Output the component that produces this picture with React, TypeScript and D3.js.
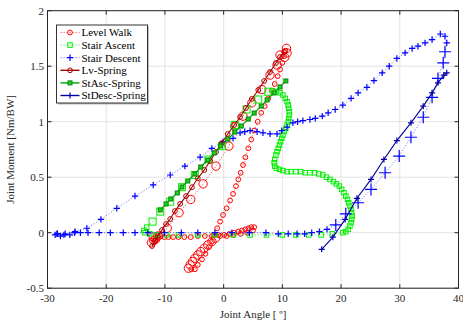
import React from "react";
import * as d3 from "d3";

type Pt = [number, number];

// Joint angle [deg] / joint moment [Nm/BW] pairs
const levelWalk: Pt[] = [
  [-11.6, -0.06], [-11.2, -0.04], [-10.7, -0.03], [-10.1, -0.04], [-9.4, -0.04], [-8.6, -0.04],
  [-7.7, -0.04], [-6.7, -0.04], [-5.6, -0.04], [-4.4, -0.03], [-3.2, -0.03], [-2.0, -0.03],
  [-0.9, -0.02], [0.1, -0.02], [1.0, -0.01], [1.8, 0.0], [2.5, 0.01], [3.1, 0.02], [3.7, 0.03],
  [4.2, 0.04], [4.7, 0.05], [5.2, 0.05], [5.0, 0.02], [4.0, 0.0], [2.9, -0.01], [1.7, -0.02],
  [0.5, -0.03], [-0.6, -0.03],
  [-1.4, -0.05], [-2.0, -0.08], [-2.7, -0.11], [-3.3, -0.14], [-3.9, -0.17], [-4.4, -0.2],
  [-4.9, -0.23], [-5.3, -0.26], [-5.7, -0.29], [-6.0, -0.32],
  [-5.5, -0.33], [-4.9, -0.33], [-4.4, -0.29], [-3.7, -0.24], [-3.1, -0.19], [-2.5, -0.13],
  [-2.0, -0.08], [-1.6, -0.02], [-1.1, 0.04], [-0.6, 0.1], [-0.1, 0.16], [0.5, 0.22], [1.1, 0.29],
  [1.6, 0.35], [2.1, 0.42], [2.5, 0.48], [2.9, 0.54], [3.3, 0.61], [3.7, 0.68], [4.2, 0.76],
  [4.7, 0.84], [5.2, 0.92], [5.8, 1.0], [6.4, 1.08], [7.0, 1.14], [7.6, 1.21], [8.2, 1.28],
  [8.7, 1.34], [9.2, 1.41], [9.6, 1.47], [10.0, 1.53], [10.3, 1.59], [10.5, 1.64],
  [10.7, 1.66], [10.8, 1.62], [10.4, 1.58], [9.6, 1.6], [9.1, 1.51], [7.9, 1.42], [6.5, 1.29],
  [4.8, 1.17], [3.3, 1.05], [1.9, 0.96], [0.9, 0.78], [-1.3, 0.6], [-3.5, 0.44], [-5.6, 0.3],
  [-7.6, 0.18], [-9.6, 0.04], [-11.2, -0.03], [-11.9, -0.07], [-12.3, -0.09], [-12.0, -0.04],
  [-11.6, -0.06],
];

const stairAscent: Pt[] = [
  [-13.6, 0.02], [-13.1, 0.05], [-12.1, 0.1], [-10.8, 0.19], [-9.1, 0.28], [-7.1, 0.41],
  [-4.9, 0.52], [-2.6, 0.66], [-0.3, 0.78], [1.9, 0.97], [3.9, 1.11], [5.9, 1.2], [7.6, 1.27],
  [8.3, 1.28], [9.0, 1.27], [9.6, 1.26], [10.1, 1.24], [10.5, 1.21], [10.8, 1.18], [11.0, 1.15],
  [11.1, 1.12], [11.2, 1.09], [11.2, 1.06], [11.1, 1.03], [11.0, 1.0], [10.8, 0.97], [10.6, 0.94],
  [10.3, 0.91], [10.1, 0.88], [9.9, 0.85], [9.7, 0.82], [9.5, 0.79], [9.3, 0.76], [9.1, 0.73],
  [8.9, 0.7], [8.7, 0.66], [8.6, 0.63], [8.7, 0.6], [9.0, 0.58], [9.5, 0.57], [10.1, 0.56],
  [10.8, 0.55], [11.5, 0.55], [12.3, 0.55], [13.1, 0.55], [13.9, 0.54], [14.7, 0.54], [15.5, 0.54],
  [16.2, 0.53], [16.9, 0.52], [17.5, 0.5], [18.1, 0.48], [18.7, 0.46], [19.2, 0.44], [19.7, 0.42],
  [20.1, 0.39], [20.5, 0.36], [20.8, 0.33], [21.1, 0.3], [21.3, 0.27], [21.5, 0.24], [21.7, 0.21],
  [21.8, 0.18], [21.9, 0.15], [21.8, 0.12], [21.7, 0.09], [21.5, 0.06], [21.2, 0.03], [20.8, 0.01],
  [20.3, 0.0], [18.5, -0.01], [16.6, -0.02], [14.5, -0.02], [12.3, -0.02], [10.0, -0.02],
  [7.3, -0.02], [4.5, -0.02], [1.6, -0.02], [-1.5, -0.02], [-4.4, -0.02], [-7.7, -0.02],
  [-9.7, -0.02], [-11.4, -0.02], [-12.6, -0.01], [-13.4, 0.0],
];

const stairDescent: Pt[] = [
  [-28.7, -0.02], [-28.3, -0.01], [-27.8, -0.03], [-27.0, -0.01], [-26.2, -0.02], [-25.4, 0.0],
  [-24.4, 0.0], [-23.1, 0.0], [-21.2, 0.0], [-19.3, 0.0], [-17.1, 0.0], [-15.1, 0.0], [-12.9, 0.0],
  [-10.1, 0.0], [-7.2, 0.0], [-4.4, 0.0], [-1.5, 0.0], [1.4, 0.0], [4.4, 0.0], [7.2, 0.0],
  [9.3, -0.01], [11.0, -0.01], [12.5, -0.01], [13.8, -0.01], [15.0, 0.0], [16.3, 0.01],
  [17.6, 0.03], [19.1, 0.07], [20.8, 0.17], [22.9, 0.27], [25.1, 0.39], [27.5, 0.54], [29.9, 0.69],
  [31.9, 0.86], [34.0, 1.04], [35.5, 1.22], [36.5, 1.39], [37.4, 1.53], [37.7, 1.63], [38.0, 1.71],
  [37.7, 1.77], [36.9, 1.79], [35.5, 1.74], [34.3, 1.71], [33.1, 1.68], [32.1, 1.66], [30.9, 1.62],
  [29.5, 1.57], [28.2, 1.5], [27.0, 1.44], [25.6, 1.37], [24.4, 1.31], [22.9, 1.26], [21.7, 1.21],
  [20.3, 1.15], [19.0, 1.11], [17.8, 1.08], [16.8, 1.05], [15.6, 1.03], [14.7, 1.02], [13.5, 1.01],
  [12.6, 1.0], [11.8, 0.99], [10.8, 0.95], [9.9, 0.92], [9.1, 0.89], [7.9, 0.89], [6.7, 0.9],
  [5.7, 0.91], [4.5, 0.92], [3.6, 0.91], [2.8, 0.9], [1.6, 0.85], [-0.1, 0.82], [-2.0, 0.76],
  [-4.0, 0.68], [-6.6, 0.6], [-9.1, 0.52], [-12.0, 0.43], [-15.1, 0.33], [-18.2, 0.22],
  [-20.9, 0.12], [-23.3, 0.04], [-25.3, 0.01], [-27.2, -0.02], [-28.4, -0.01],
];

const lvSpring: Pt[] = [
  [-12.2, -0.12], [-11.7, -0.075], [-11.2, -0.03], [-10.5, 0.024], [-9.8, 0.078], [-9.1, 0.123],
  [-8.3, 0.195], [-7.4, 0.26], [-6.4, 0.33], [-5.4, 0.41], [-4.4, 0.49], [-3.3, 0.565],
  [-2.3, 0.646], [-1.3, 0.727], [-0.3, 0.808], [0.7, 0.889], [1.8, 0.97], [2.8, 1.042],
  [3.8, 1.124], [4.8, 1.205], [5.9, 1.286], [6.9, 1.367], [7.9, 1.448], [8.9, 1.529],
  [9.6, 1.583], [10.3, 1.628],
];

const stAscSpring: Pt[] = [
  [-10.8, 0.205], [-9.8, 0.259], [-9.0, 0.304], [-7.9, 0.358], [-7.1, 0.412], [-6.1, 0.466],
  [-4.9, 0.529], [-3.9, 0.592], [-2.7, 0.655], [-1.6, 0.718], [-0.5, 0.781], [0.7, 0.844],
  [1.9, 0.907], [3.0, 0.961], [4.2, 1.024], [5.2, 1.078], [6.4, 1.141], [7.4, 1.196],
  [8.6, 1.259], [9.6, 1.313], [10.6, 1.367],
];

const stDescSpring: Pt[] = [
  [16.7, -0.15], [18.6, -0.04], [20.7, 0.12], [22.7, 0.31], [25.1, 0.48], [27.3, 0.66],
  [29.5, 0.83], [31.9, 0.99], [34.0, 1.14], [35.5, 1.26], [36.5, 1.35], [37.5, 1.42], [38.0, 1.44],
];

const xTicks = [-30, -20, -10, 0, 10, 20, 30, 40];
const yTicks = [-0.5, 0, 0.5, 1, 1.5, 2];

type Marker = "circle" | "square" | "plus";
interface Series {
  name: string;
  data: Pt[];
  color: string;
  markerColor: string;
  fill: string;
  dashed: boolean;
  marker: Marker;
  size: number;
  bigSize: number;
  big: [number, number][];
}

const series: Series[] = [
  { name: "Level Walk", data: levelWalk, color: "#ff0000", markerColor: "#ff0000", fill: "none", dashed: true,
    marker: "circle", size: 2.4, bigSize: 4.2, big: [[28, 37], [71, 91]] },
  { name: "Stair Ascent", data: stairAscent, color: "#00e000", markerColor: "#00ee00", fill: "none", dashed: true,
    marker: "square", size: 4.5, bigSize: 7, big: [[2, 12]] },
  { name: "Stair Descent", data: stairDescent, color: "#3333ff", markerColor: "#0000ff", fill: "none", dashed: true,
    marker: "plus", size: 3.2, bigSize: 6, big: [[27, 38]] },
  { name: "Lv-Spring", data: lvSpring, color: "#a00000", markerColor: "#b00000", fill: "none", dashed: false,
    marker: "circle", size: 2.4, bigSize: 2.4, big: [] },
  { name: "StAsc-Spring", data: stAscSpring, color: "#00a000", markerColor: "#008800", fill: "#22cc22", dashed: false,
    marker: "square", size: 4, bigSize: 4, big: [] },
  { name: "StDesc-Spring", data: stDescSpring, color: "#0000a0", markerColor: "#0000aa", fill: "none", dashed: false,
    marker: "plus", size: 3, bigSize: 3, big: [] },
];

const W = 463, H = 324;
const plot = { left: 47.5, right: 458.5, top: 10.7, bottom: 288.2 };
const FONT = "'Liberation Serif', 'Times New Roman', serif";

function MarkerShape({ type, cx, cy, s, stroke, fill }: { type: Marker; cx: number; cy: number; s: number; stroke: string; fill: string }) {
  if (type === "circle") return <circle cx={cx} cy={cy} r={s} fill={fill} stroke={stroke} strokeWidth={1} />;
  if (type === "square") return <rect x={cx - s / 2} y={cy - s / 2} width={s} height={s} fill={fill} stroke={stroke} strokeWidth={1} />;
  return <path d={`M${cx - s},${cy}H${cx + s}M${cx},${cy - s}V${cy + s}`} stroke={stroke} strokeWidth={1.2} fill="none" />;
}

export default function App() {
  const x = d3.scaleLinear().domain([-30, 40]).range([plot.left, plot.right]);
  const y = d3.scaleLinear().domain([-0.5, 2]).range([plot.bottom, plot.top]);
  const line = d3.line<Pt>().x(d => x(d[0])).y(d => y(d[1]));

  const isBig = (s: Series, i: number) => s.big.some(([a, b]) => i >= a && i <= b);

  const legendX = 56.5, legendY = 25, legendRow = 12.6;

  return (
    <div style={{ position: "absolute", left: 0, top: 0 }}>
      <svg width={W} height={H} style={{ display: "block", background: "#fff" }}>
        {/* grid */}
        {xTicks.map(t => (
          <line key={"gx" + t} x1={x(t)} x2={x(t)} y1={plot.top} y2={plot.bottom} stroke="#e3e3e3" strokeWidth={1} />
        ))}
        {yTicks.map(t => (
          <line key={"gy" + t} x1={plot.left} x2={plot.right} y1={y(t)} y2={y(t)} stroke="#e3e3e3" strokeWidth={1} />
        ))}

        {/* series */}
        {series.map(s => (
          <g key={s.name}>
            <path d={line(s.data) ?? ""} fill="none" stroke={s.color} strokeWidth={s.dashed ? 0.9 : 1.1}
              strokeDasharray={s.dashed ? "1.2,1.8" : undefined} opacity={s.dashed ? 0.7 : 1} />
            {s.data.map((d, i) => (
              <MarkerShape key={i} type={s.marker} cx={x(d[0])} cy={y(d[1])}
                s={isBig(s, i) ? s.bigSize : s.size} stroke={s.markerColor} fill={s.fill} />
            ))}
          </g>
        ))}

        {/* axes box and ticks */}
        <rect x={plot.left} y={plot.top} width={plot.right - plot.left} height={plot.bottom - plot.top}
          fill="none" stroke="#262626" strokeWidth={1} />
        {xTicks.map(t => (
          <g key={"tx" + t}>
            <line x1={x(t)} x2={x(t)} y1={plot.bottom} y2={plot.bottom - 4} stroke="#262626" />
            <line x1={x(t)} x2={x(t)} y1={plot.top} y2={plot.top + 4} stroke="#262626" />
            <text x={x(t)} y={302} textAnchor="middle" fontFamily={FONT} fontSize={11} fill="#262626">{t}</text>
          </g>
        ))}
        {yTicks.map(t => (
          <g key={"ty" + t}>
            <line x1={plot.left} x2={plot.left + 4} y1={y(t)} y2={y(t)} stroke="#262626" />
            <line x1={plot.right} x2={plot.right - 4} y1={y(t)} y2={y(t)} stroke="#262626" />
            <text x={44} y={y(t)} dy="0.35em" textAnchor="end" fontFamily={FONT} fontSize={11} fill="#262626">{t}</text>
          </g>
        ))}

        {/* axis labels */}
        <text x={(plot.left + plot.right) / 2} y={318} textAnchor="middle" fontFamily={FONT} fontSize={11} fill="#262626">
          Joint Angle [ º]
        </text>
        <text transform={`translate(14,${(plot.top + plot.bottom) / 2}) rotate(-90)`} textAnchor="middle"
          fontFamily={FONT} fontSize={11} fill="#262626">
          Joint Moment [Nm/BW]
        </text>

        {/* legend */}
        <rect x={legendX + 1.5} y={legendY + 1.5} width={91} height={78} fill="#bbb" />
        <rect x={legendX} y={legendY} width={91} height={78} fill="#fff" stroke="#333" strokeWidth={1} />
        {series.map((s, i) => {
          const ly = legendY + 7.5 + i * legendRow;
          return (
            <g key={"lg" + s.name}>
              <line x1={legendX + 4} x2={legendX + 23} y1={ly} y2={ly} stroke={s.color} strokeWidth={s.dashed ? 0.9 : 1.4}
                strokeDasharray={s.dashed ? "1.2,1.8" : undefined} opacity={s.dashed ? 0.7 : 1} />
              <MarkerShape type={s.marker} cx={legendX + 13.5} cy={ly} s={s.size} stroke={s.markerColor} fill={s.fill} />
              <text x={legendX + 25} y={ly} dy="0.35em" fontFamily={FONT} fontSize={11} fill="#000">{s.name}</text>
            </g>
          );
        })}
      </svg>
    </div>
  );
}
